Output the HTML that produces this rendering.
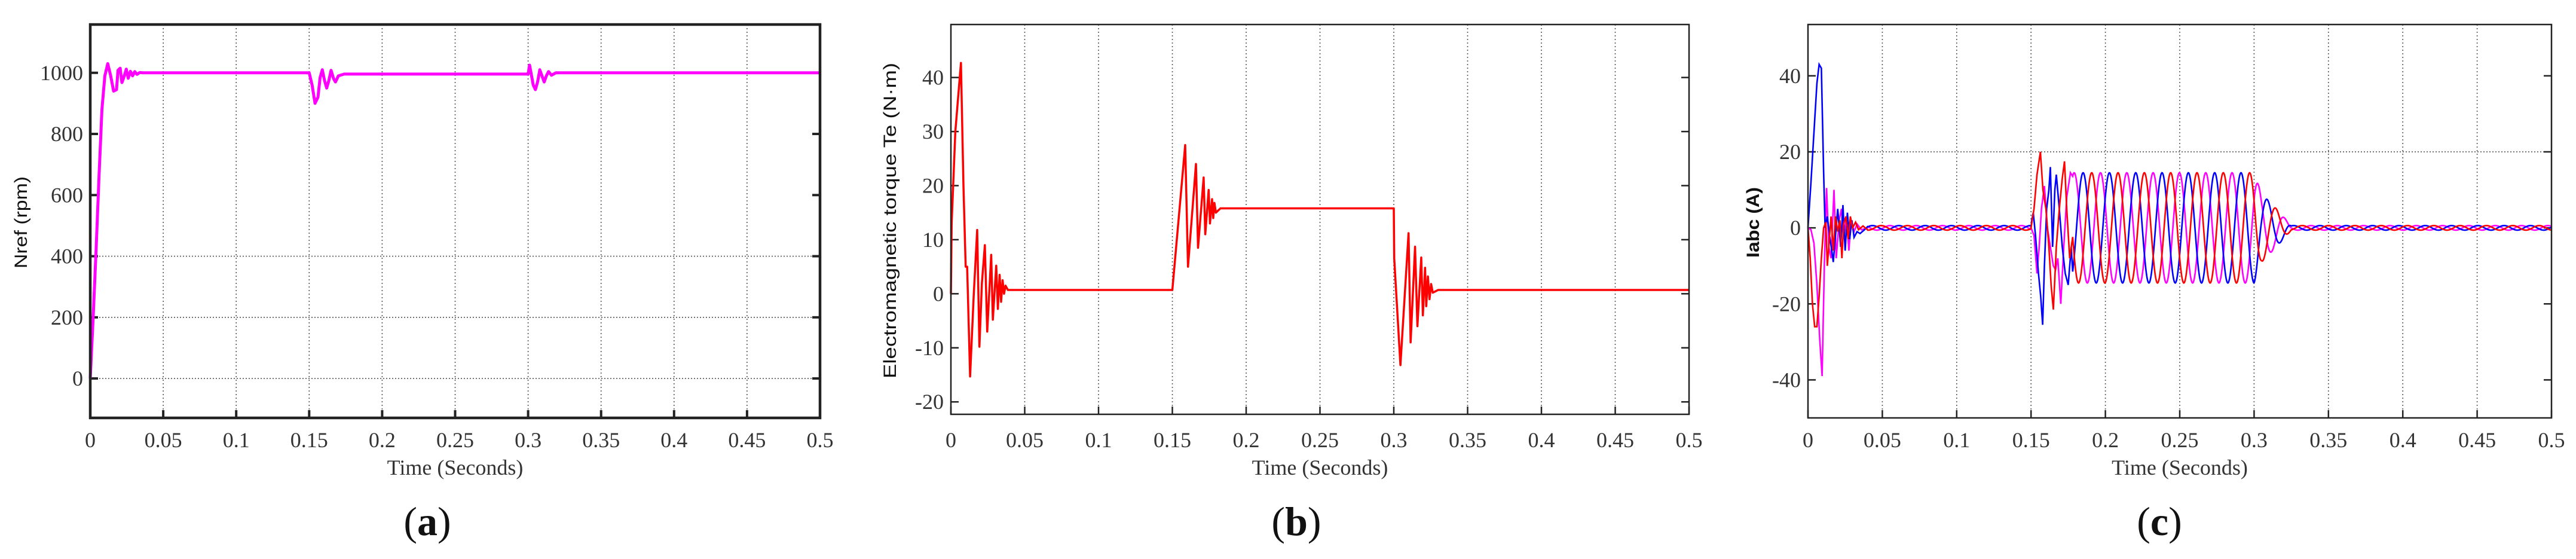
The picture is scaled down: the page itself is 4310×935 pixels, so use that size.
<!DOCTYPE html>
<html><head><meta charset="utf-8">
<style>
html,body{margin:0;padding:0;background:#fff;}
svg{display:block;}
text{font-family:"Liberation Serif",serif;}
</style></head>
<body>
<svg id="fig" width="4310" height="935" viewBox="0 0 4310 935" xmlns="http://www.w3.org/2000/svg">
<rect x="0" y="0" width="4310" height="935" fill="#fff"/>
<g id="pa"></g>
<g id="pb"></g>
<g id="pc"></g>
</svg>
<script>
// ---------- shared axis data ----------
const xTicks = [0,0.05,0.1,0.15,0.2,0.25,0.3,0.35,0.4,0.45,0.5];
const xTickLabels = ["0","0.05","0.1","0.15","0.2","0.25","0.3","0.35","0.4","0.45","0.5"];

// ---------- panel (a): speed ----------
const aTicks = [0,200,400,600,800,1000];
const aTickLabels = ["0","200","400","600","800","1000"];
const aGridY = [0,200,400];
const aTime = [0,0.002,0.004,0.006,0.008,0.010,0.012,0.014,0.016,0.018,0.019,0.0205,0.0217,0.023,0.0247,0.026,0.0275,0.029,0.0305,0.032,0.034,0.036,0.15,0.152,0.154,0.156,0.1575,0.159,0.1605,0.162,0.1635,0.165,0.1668,0.168,0.170,0.174,0.3,0.301,0.302,0.3035,0.305,0.3065,0.308,0.3095,0.311,0.3125,0.314,0.316,0.319,0.325,0.5];
const aSpeed = [0,200,420,660,880,990,1030,990,940,945,1008,1015,968,985,1012,982,1005,990,1004,995,1001,1000,1000,960,900,920,985,1010,975,950,975,1008,980,970,990,996,996,1025,1000,960,945,970,1010,990,970,990,1004,992,1000,1000,1000];

// ---------- panel (b): torque ----------
const bTicks = [-20,-10,0,10,20,30,40];
const bTickLabels = ["-20","-10","0","10","20","30","40"];
const bTime = [0,0.0005,0.003,0.0068,0.0085,0.010,0.011,0.013,0.0155,0.0178,0.0193,0.021,0.023,0.0246,0.0273,0.0284,0.0307,0.0318,0.033,0.034,0.035,0.036,0.037,0.0386,0.15,0.1587,0.1606,0.166,0.1674,0.1712,0.1723,0.1746,0.1755,0.1769,0.1777,0.1785,0.1795,0.1826,0.3,0.3003,0.3045,0.31,0.3114,0.3144,0.316,0.3186,0.3197,0.3212,0.322,0.3231,0.3242,0.3253,0.3264,0.33,0.5];
const bTorque = [0,13,30,42.7,20,5,5,-15.3,0,11.8,-9.8,2,9,-7,7.2,-4.8,5.2,-2.8,3.5,-1.5,2.5,0,1.5,0.7,0.7,27.5,5,24,8.5,21.5,11,19.2,13,17.5,14,16.8,15,15.8,15.8,6.5,-13.2,11.2,-9,8.7,-6,6.7,-4,4.8,-2.3,3.2,-1,1.8,0.2,0.7,0.7];

// ---------- panel (c): phase currents ----------
const cTicks = [-40,-20,0,20,40];
const cTickLabels = ["-40","-20","0","20","40"];
const cGridY = [20];
const cFreq = 56.5;
const cPeakRed = 0.297, cPeakBlue = 0.2912, cPeakMag = 0.3029;
const cEnvTime = [0.04,0.15,0.178,0.3,0.305,0.315,0.325,0.5];
const cEnvAmp  = [0.6,0.6,14.5,14.5,9,5,0.6,0.6];
// start-up transients (0 - 0.04 s)
const cBlueT1 = [0,0.002,0.004,0.006,0.0075,0.009,0.0105,0.0115,0.013,0.0145,0.016,0.017,0.0185,0.020,0.021,0.022,0.0235,0.025,0.0265,0.028,0.0295,0.031,0.033,0.035,0.038,0.04];
const cBlueV1 = [0,12,25,38,43,42,15,0,3,-2,-6,-9,-2,5,0,-5,6,-6,4,-3,2,-2.5,-1,-1.5,-0.5,0.3];
const cMagT1 = [0,0.002,0.004,0.006,0.008,0.0095,0.011,0.0125,0.014,0.0155,0.0175,0.019,0.021,0.0225,0.024,0.026,0.0275,0.029,0.031,0.033,0.036,0.04];
const cMagV1 = [0,-0.5,-4,-15,-30,-39,-10,10.5,-5,-8,10,-8,2,5,-3,3,-6,2,-1,1,-0.5,0];
const cRedT1 = [0,0.0015,0.003,0.0045,0.006,0.0075,0.009,0.0105,0.012,0.013,0.014,0.0155,0.017,0.0185,0.020,0.0215,0.0228,0.024,0.0255,0.027,0.0285,0.030,0.032,0.034,0.037,0.04];
const cRedV1 = [0,-8,-20,-26,-26,-18,-8,0,1.5,-10,-5,3,-6,3,-1,2,-8,1,3,-3,3,0,1.5,-0.5,0.5,-0.5];
// load-step transients (0.15 - 0.178 s)
const cBlueT2 = [0.15,0.1505,0.1515,0.153,0.155,0.1565,0.1578,0.159,0.1605,0.162,0.163,0.1645,0.166,0.167,0.169,0.171,0.173,0.175,0.177];
const cBlueV2 = [0,2,4,-2,-12,-18,-25.5,-10,5,10,16,-5,10,14,5,-5,-12,-15,-5];
const cMagT2 = [0.15,0.152,0.154,0.1555,0.157,0.159,0.161,0.163,0.165,0.1665,0.168,0.17,0.172,0.174,0.1765];
const cMagV2 = [0,-2,-12,-5,5,11,0,-5,-10,-11,-8,-20,-5,8,14.5];
const cRedT2 = [0.15,0.152,0.154,0.1563,0.158,0.16,0.162,0.1635,0.165,0.167,0.169,0.171,0.1725,0.174,0.176];
const cRedV2 = [0,5,14,20,10,5,-5,-15,-21.5,-5,5,13,17.5,5,-8];

const NS = "http://www.w3.org/2000/svg";
function mk(tag, attrs, parent){
  const e = document.createElementNS(NS, tag);
  for (const k in attrs) e.setAttribute(k, attrs[k]);
  parent.appendChild(e);
  return e;
}
function scaleX(p, t){ return p.L + (t - p.x0) / (p.x1 - p.x0) * (p.R - p.L); }
function scaleY(p, v){ return p.B - (v - p.y0) / (p.y1 - p.y0) * (p.B - p.T); }
function pathFrom(p, ts, vs){
  let d = "";
  for (let i = 0; i < ts.length; i++) d += (i ? "L" : "M") + scaleX(p, ts[i]).toFixed(2) + "," + scaleY(p, vs[i]).toFixed(2);
  return d;
}
function interp(ts, vs, t){
  if (t <= ts[0]) return vs[0];
  for (let i = 1; i < ts.length; i++) if (t <= ts[i]) return vs[i-1] + (vs[i]-vs[i-1])*(t-ts[i-1])/(ts[i]-ts[i-1]);
  return vs[vs.length-1];
}

function drawAxes(g, p, yTicks, yLabels, gridY, frameW, id){
  // grid
  for (let i = 1; i < xTicks.length - 1; i++) {
    const x = scaleX(p, xTicks[i]);
    const gl = mk("line", {x1:x, y1:p.T, x2:x, y2:p.B, stroke:"#555", "stroke-width":1.6, "stroke-dasharray":"2,4"}, g);
    
    
  }
  gridY.forEach(v => {
    const y = scaleY(p, v);
    const gl = mk("line", {x1:p.L, y1:y, x2:p.R, y2:y, stroke:"#555", "stroke-width":1.6, "stroke-dasharray":"2,3"}, g);
    
    
  });
  // ticks and labels
  xTicks.forEach((t, i) => {
    const x = scaleX(p, t);
    const tk = mk("line", {x1:x, y1:p.B, x2:x, y2:p.B - 13, stroke:"#222", "stroke-width":frameW}, g);
    
    
    const lb = mk("text", {x:x, y:748, "font-size":36, fill:"#333", "text-anchor":"middle"}, g);
    lb.textContent = xTickLabels[i];
    
    
  });
  yTicks.forEach((v, i) => {
    const y = scaleY(p, v);
    const tl = mk("line", {x1:p.L, y1:y, x2:p.L + 13, y2:y, stroke:"#222", "stroke-width":frameW}, g);
    
    
    const tr = mk("line", {x1:p.R, y1:y, x2:p.R - 13, y2:y, stroke:"#222", "stroke-width":frameW}, g);
    
    
    const lb = mk("text", {x:p.L - 12, y:y + 12, "font-size":36, fill:"#333", "text-anchor":"end"}, g);
    lb.textContent = yLabels[i];
    
    
  });
  const xt = mk("text", {x:(p.L + p.R)/2, y:794, "font-size":36, fill:"#333", "text-anchor":"middle"}, g);
  xt.textContent = "Time (Seconds)";
  
  
}
function drawFrame(g, p, w){
  const fr = mk("rect", {x:p.L, y:p.T, width:p.R - p.L, height:p.B - p.T, fill:"none", stroke:"#222", "stroke-width":w}, g);
  
  
}
function yTitle(g, cx, cy, txt, len, size, weight){
  const t = mk("text", {x:0, y:0, "font-size":size, "font-weight":weight, fill:"#111", "text-anchor":"middle", "dominant-baseline":"middle", textLength:len, lengthAdjust:"spacingAndGlyphs", transform:"translate(" + cx + "," + cy + ") rotate(-90)", style:"font-family:'Liberation Sans',sans-serif"}, g);
  t.textContent = txt;
  
  
}
function caption(g, cx, txt){
  const t = mk("text", {x:cx, y:895, "font-size":68, fill:"#111", "text-anchor":"middle"}, g);
  t.innerHTML = '(<tspan font-weight="bold">' + txt + '</tspan>)';
  
  
}

// ----- panel a -----
const PA = {L:151, R:1372, T:41, B:699, x0:0, x1:0.5, y0:-129, y1:1158};
const ga = document.getElementById("pa");
drawAxes(ga, PA, aTicks, aTickLabels, aGridY, 4, "a");
const la = mk("path", {d:pathFrom(PA, aTime, aSpeed), fill:"none", stroke:"#ff00ff", "stroke-width":5, "stroke-linejoin":"round"}, ga);


drawFrame(ga, PA, 4.5);
yTitle(ga, 37, 372, "Nref (rpm)", 154, 30, "normal");
caption(ga, 715, "a");

// ----- panel b -----
const PB = {L:1591, R:2826, T:41, B:693, x0:0, x1:0.5, y0:-22.3, y1:49.8};
const gb = document.getElementById("pb");
drawAxes(gb, PB, bTicks, bTickLabels, [], 2.5, "b");
const lb = mk("path", {d:pathFrom(PB, bTime, bTorque), fill:"none", stroke:"#ff0000", "stroke-width":3.5, "stroke-linejoin":"round"}, gb);


drawFrame(gb, PB, 2.5);
yTitle(gb, 1491, 369, "Electromagnetic torque Te (N\u00b7m)", 528, 30, "normal");
caption(gb, 2169, "b");

// ----- panel c -----
const PC = {L:3025, R:4269, T:41, B:699, x0:0, x1:0.5, y0:-50, y1:53.5};
const gc = document.getElementById("pc");
drawAxes(gc, PC, cTicks, cTickLabels, cGridY, 2.5, "c");
function phaseSeries(peak, t1, v1, t2, v2){
  const ts = [], vs = [];
  for (let i = 0; i < t1.length; i++){ ts.push(t1[i]); vs.push(v1[i]); }
  for (let t = 0.0402; t < 0.15; t += 0.0004){ ts.push(t); vs.push(interp(cEnvTime, cEnvAmp, t) * Math.cos(2*Math.PI*cFreq*(t - peak))); }
  for (let i = 0; i < t2.length; i++){ ts.push(t2[i]); vs.push(v2[i]); }
  for (let t = 0.178; t <= 0.5; t += 0.0003){ ts.push(t); vs.push(interp(cEnvTime, cEnvAmp, t) * Math.cos(2*Math.PI*cFreq*(t - peak))); }
  return [ts, vs];
}
const sMag = phaseSeries(cPeakMag, cMagT1, cMagV1, cMagT2, cMagV2);
const sBlue = phaseSeries(cPeakBlue, cBlueT1, cBlueV1, cBlueT2, cBlueV2);
const sRed = phaseSeries(cPeakRed, cRedT1, cRedV1, cRedT2, cRedV2);
const lm = mk("path", {d:pathFrom(PC, sMag[0], sMag[1]), fill:"none", stroke:"#ff00ff", "stroke-width":2.6}, gc);


const lbl = mk("path", {d:pathFrom(PC, sBlue[0], sBlue[1]), fill:"none", stroke:"#0000ff", "stroke-width":2.6}, gc);


const lr = mk("path", {d:pathFrom(PC, sRed[0], sRed[1]), fill:"none", stroke:"#ff0000", "stroke-width":2.6}, gc);


drawFrame(gc, PC, 2.5);
yTitle(gc, 2935, 372, "Iabc (A)", 118, 30, "bold");
caption(gc, 3613, "c");
</script>
</body></html>
